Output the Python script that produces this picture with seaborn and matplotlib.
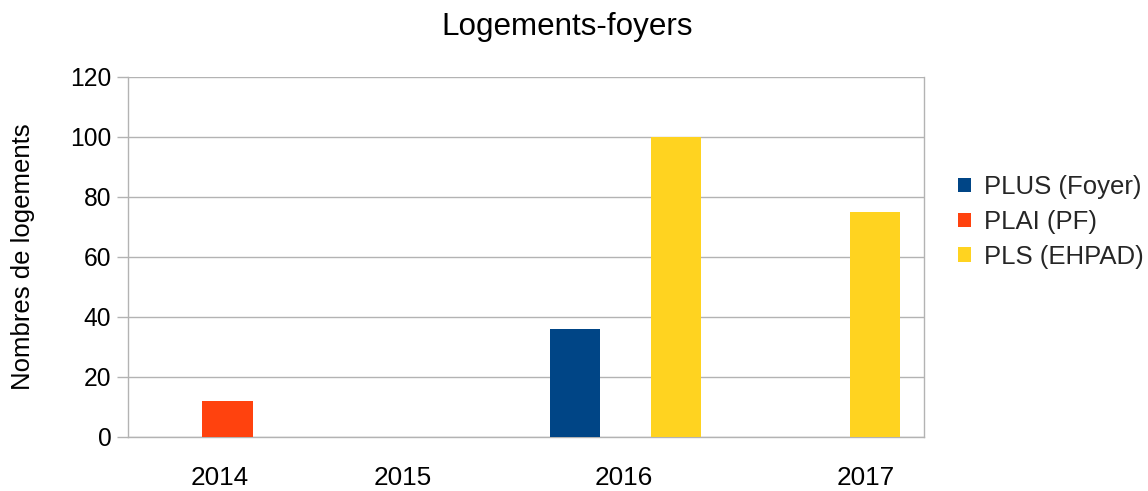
import pandas as pd
import matplotlib
matplotlib.use("Agg")
import matplotlib.pyplot as plt
import matplotlib.transforms as mtransforms
import seaborn as sns

# data
years = ["2014", "2015", "2016", "2017"]
series = ["PLUS (Foyer)", "PLAI (PF)", "PLS (EHPAD)"]
plus_foyer = [0, 0, 36, 0]
plai_pf = [12, 0, 0, 0]
pls_ehpad = [0, 0, 100, 75]
colors = ["#004586", "#ff420e", "#ffd320"]
y_ticks = [0, 20, 40, 60, 80, 100, 120]

# long format for seaborn
df = pd.DataFrame({
    "Année": years * 3,
    "Série": [series[0]] * 4 + [series[1]] * 4 + [series[2]] * 4,
    "Logements": plus_foyer + plai_pf + pls_ehpad,
})

sns.set_theme(style="white")
plt.rcParams["font.family"] = ["Liberation Sans", "DejaVu Sans"]

fig = plt.figure(figsize=(11.48, 4.91), dpi=100)
ax = fig.add_axes([128 / 1148, 54 / 491, 796 / 1148, 360 / 491])

sns.barplot(data=df, x="Année", y="Logements", hue="Série", order=years,
            hue_order=series, palette=colors, width=0.754, gap=0,
            linewidth=0, saturation=1, ax=ax, zorder=3)

ax.set_ylim(0, 120)
ax.set_yticks(y_ticks)
ax.set_xlim(-0.5, 3.5)
ax.yaxis.grid(True, color="#b3b3b3", linewidth=1, zorder=0)
ax.xaxis.grid(False)
for side in ["left", "right", "bottom"]:
    ax.spines[side].set_color("#b3b3b3")
    ax.spines[side].set_linewidth(1)
ax.spines["top"].set_visible(False)

ax.tick_params(axis="y", left=True, length=8, width=1, color="#b3b3b3",
               labelsize=17.7, pad=4, labelcolor="black")
ax.tick_params(axis="x", bottom=False, labelsize=18.8, pad=15, labelcolor="black")

# the original tool places the year labels a bit off the category centres
label_shift_px = [-8, -24, -2, 41]
for lbl, dx in zip(ax.get_xticklabels(), label_shift_px):
    lbl.set_transform(lbl.get_transform() +
                      mtransforms.ScaledTranslation(dx / 100, 0, fig.dpi_scale_trans))

ax.set_xlabel("")
ax.set_ylabel("Nombres de logements", fontsize=18.5, color="black")
ax.yaxis.set_label_coords(-0.117, 0.5)

fig.text(567 / 1148, 1 - 27 / 491, "Logements-foyers", fontsize=22.6,
         ha="center", va="center", color="black")

ax.legend(loc="center left", bbox_to_anchor=(1.03, 0.597), frameon=False,
          fontsize=18.5, handlelength=0.5, handleheight=0.5, handletextpad=0.5,
          labelspacing=0.42, borderaxespad=0)

fig.savefig("out.png", dpi=100)
